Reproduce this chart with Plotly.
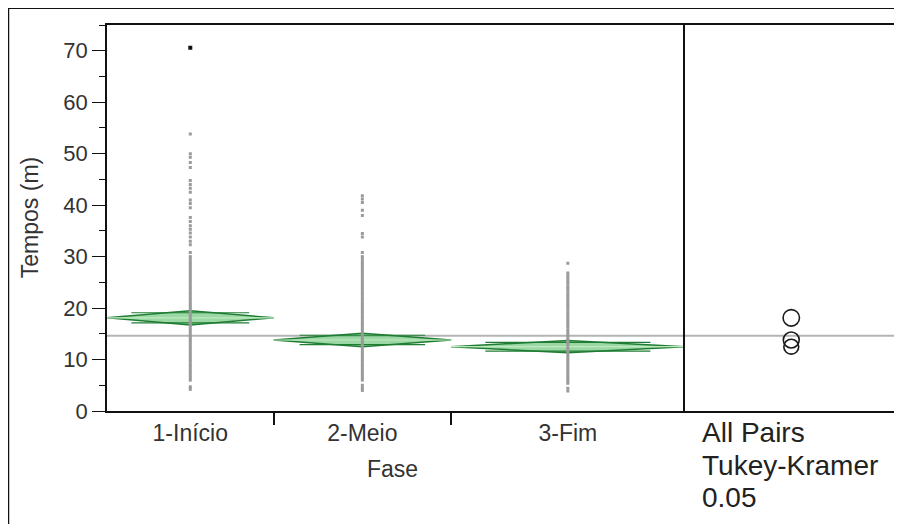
import plotly.graph_objects as go
import math

# ---------------- data ----------------
categories = ["1-Início", "2-Meio", "3-Fim"]
group_n = [167, 178, 234]            # group sizes (x widths are proportional to n)
group_mean = [18.1, 13.8, 12.5]
ci_half = [1.4, 1.3, 1.2]            # 95% CI half-width (means diamonds)
grand_mean = 14.6
circle_radius = [1.6, 1.55, 1.45]    # Tukey-Kramer comparison circles

g1_values = [53.8, 50.0, 49.3, 48.3, 47.3, 44.8, 44.0, 43.3, 42.5, 41.0, 40.3, 39.5,
             37.6, 36.8, 36.0, 35.3, 34.6, 33.8, 33.0, 32.3, 30.8,
             30.0, 29.5, 29.0, 28.5, 28.0, 27.5, 27.0, 26.5, 26.0, 25.5, 25.0, 24.5,
             24.0, 23.5, 23.0, 22.5, 22.0, 21.5, 21.0, 20.5, 20.0, 19.5, 19.0, 18.5,
             18.0, 17.5, 17.0, 16.5, 16.0, 15.5, 15.0, 14.5, 14.0, 13.5, 13.0, 12.5,
             12.0, 11.5, 11.0, 10.5, 10.0, 9.5, 9.0, 8.5, 8.0, 7.5, 7.0, 6.5, 6.0,
             4.7, 4.2]
g1_outlier = [70.6]
g2_values = [41.8, 41.2, 40.5, 39.0, 38.0, 34.5, 33.8, 30.8,
             30.0, 29.5, 29.0, 28.5, 28.0, 27.5, 27.0, 26.5, 26.0, 25.5, 25.0, 24.5,
             24.0, 23.5, 23.0, 22.5, 22.0, 21.5, 21.0, 20.5, 20.0, 19.5, 19.0, 18.5,
             18.0, 17.5, 17.0, 16.5, 16.0, 15.5, 15.0, 14.5, 14.0, 13.5, 13.0, 12.5,
             12.0, 11.5, 11.0, 10.5, 10.0, 9.5, 9.0, 8.5, 8.0, 7.5, 7.0, 6.5, 6.0,
             5.0, 4.5, 4.0]
g3_values = [28.7, 26.8, 26.3, 25.8, 25.3, 24.8, 24.3, 23.8, 23.3, 22.8, 22.3, 21.8,
             21.3, 20.8, 20.3, 19.8, 19.3, 18.8, 18.3, 17.8, 17.3, 16.8, 16.3, 15.8,
             15.3, 14.8, 14.3, 13.8, 13.3, 12.8, 12.3, 11.8, 11.3, 10.8, 10.3, 9.8,
             9.3, 8.8, 8.3, 7.8, 7.3, 6.8, 6.3, 5.8, 5.4, 4.4, 3.9]
group_values = [g1_values, g2_values, g3_values]

y_ticks = [0, 10, 20, 30, 40, 50, 60, 70]

# ---------------- layout geometry ----------------
# the page body adds an 8px offset, so the figure is laid out in page px - 8
OFF = 8
W, H = 894, 516
ML, MR, MT, MB = 99, 2, 17, 113
plot_w = W - ML - MR
plot_h = H - MT - MB
y_range = [0, 75]
total_n = sum(group_n)
main_frac = 579 / plot_w
px_per_unit = plot_h / (y_range[1] - y_range[0])
right_units = (plot_w * (1 - main_frac)) / px_per_unit

def px_x(px):   # page px -> paper x
    return (px - OFF - ML) / plot_w

def px_y(py):   # page px -> paper y
    return (H - MB - (py - OFF)) / plot_h

bounds = [0]
for n in group_n:
    bounds.append(bounds[-1] + n)
centers = [(bounds[i] + bounds[i + 1]) / 2 for i in range(3)]

fig = go.Figure()

DARK_GREEN = "#1f7d33"
FILL_GREEN = "rgba(90,190,105,0.6)"

# means diamonds
for i in range(3):
    l, r, c = bounds[i], bounds[i + 1], centers[i]
    m, h = group_mean[i], ci_half[i]
    fig.add_trace(go.Scatter(
        x=[l, c, r, c, l], y=[m, m + h, m, m - h, m],
        mode="lines", fill="toself", fillcolor=FILL_GREEN,
        line=dict(color=DARK_GREEN, width=1.5), hoverinfo="skip", showlegend=False))
    ov = h / math.sqrt(2)
    off = (r - l) / 2 * (1 - 1 / math.sqrt(2))
    for s in (1, -1):
        fig.add_trace(go.Scatter(
            x=[l + off, r - off], y=[m + s * ov, m + s * ov], mode="lines",
            line=dict(color=DARK_GREEN, width=1.2), hoverinfo="skip", showlegend=False))
    fig.add_trace(go.Scatter(
        x=[l, r], y=[m, m], mode="lines",
        line=dict(color="#bfeabf", width=1.2), hoverinfo="skip", showlegend=False))

# points
for i in range(3):
    fig.add_trace(go.Scatter(
        x=[centers[i]] * len(group_values[i]), y=group_values[i], mode="markers",
        marker=dict(symbol="square", size=3, color="#9a9a9a"),
        showlegend=False, hoverinfo="y"))
fig.add_trace(go.Scatter(
    x=[centers[0]] * len(g1_outlier), y=g1_outlier, mode="markers",
    marker=dict(symbol="square", size=4, color="#111111"), showlegend=False))

shapes = []
shapes.append(dict(type="line", xref="paper", yref="y", x0=0, x1=1,
                   y0=grand_mean, y1=grand_mean,
                   line=dict(color="#b4b4b4", width=2), layer="below"))
for i in range(3):
    r = circle_radius[i]
    shapes.append(dict(type="circle", xref="x2", yref="y2",
                       x0=-r, x1=r, y0=group_mean[i] - r, y1=group_mean[i] + r,
                       line=dict(color="#1a1a1a", width=1.6)))
# outer frame (top and left)
shapes.append(dict(type="line", xref="paper", yref="paper",
                   x0=px_x(8), x1=px_x(910), y0=px_y(8), y1=px_y(8),
                   line=dict(color="#111111", width=2)))
shapes.append(dict(type="line", xref="paper", yref="paper",
                   x0=px_x(8), x1=px_x(8), y0=px_y(8), y1=px_y(530),
                   line=dict(color="#111111", width=2)))

FONT = "Liberation Sans, Arial, sans-serif"
TXT = "#333333"

annotations = [
    dict(text="Tempos (m)", xref="paper", yref="paper", x=px_x(30), y=px_y(218),
         textangle=-90, showarrow=False, font=dict(family=FONT, size=23, color=TXT),
         xanchor="center", yanchor="middle"),
    dict(text="Fase", xref="paper", yref="paper", x=px_x(393), y=px_y(469),
         showarrow=False, font=dict(family=FONT, size=23, color=TXT),
         xanchor="center", yanchor="middle"),
]
for txt, py in [("All Pairs", 432), ("Tukey-Kramer", 465), ("0.05", 498)]:
    annotations.append(dict(text=txt, xref="paper", yref="paper", x=px_x(702), y=px_y(py),
                            showarrow=False, font=dict(family=FONT, size=28, color="#222222"),
                            xanchor="left", yanchor="middle"))

base_axis = dict(showline=True, linecolor="#111111", linewidth=1.8,
                 showgrid=False, zeroline=False)

fig.update_layout(
    width=W, height=H,
    margin=dict(l=ML, r=MR, t=MT, b=MB),
    paper_bgcolor="white", plot_bgcolor="white",
    showlegend=False,
    font=dict(family=FONT, color=TXT),
    xaxis=dict(domain=[0, main_frac], range=[0, total_n], mirror=True, **base_axis,
               tickmode="array", tickvals=centers, ticktext=categories, ticks="",
               tickfont=dict(family=FONT, size=23, color=TXT),
               minor=dict(tickmode="array", tickvals=bounds[1:3], ticks="outside",
                          ticklen=12, tickwidth=1.6, tickcolor="#111111")),
    yaxis=dict(domain=[0, 1], range=y_range, mirror=False, **base_axis,
               tickmode="array", tickvals=y_ticks, ticks="outside", ticklen=13,
               tickwidth=1.4, tickcolor="#111111",
               tickfont=dict(family=FONT, size=22, color=TXT),
               minor=dict(dtick=5, ticks="outside", ticklen=6, tickwidth=1.4,
                          tickcolor="#111111")),
    xaxis2=dict(domain=[main_frac, 1], range=[-right_units / 2, right_units / 2],
                anchor="y2", showticklabels=False, ticks="", mirror=True, **base_axis),
    yaxis2=dict(domain=[0, 1], range=y_range, anchor="x2", matches="y",
                showticklabels=False, ticks="", mirror=True, **base_axis),
    shapes=shapes,
    annotations=annotations,
)

fig.write_html("out.html")
